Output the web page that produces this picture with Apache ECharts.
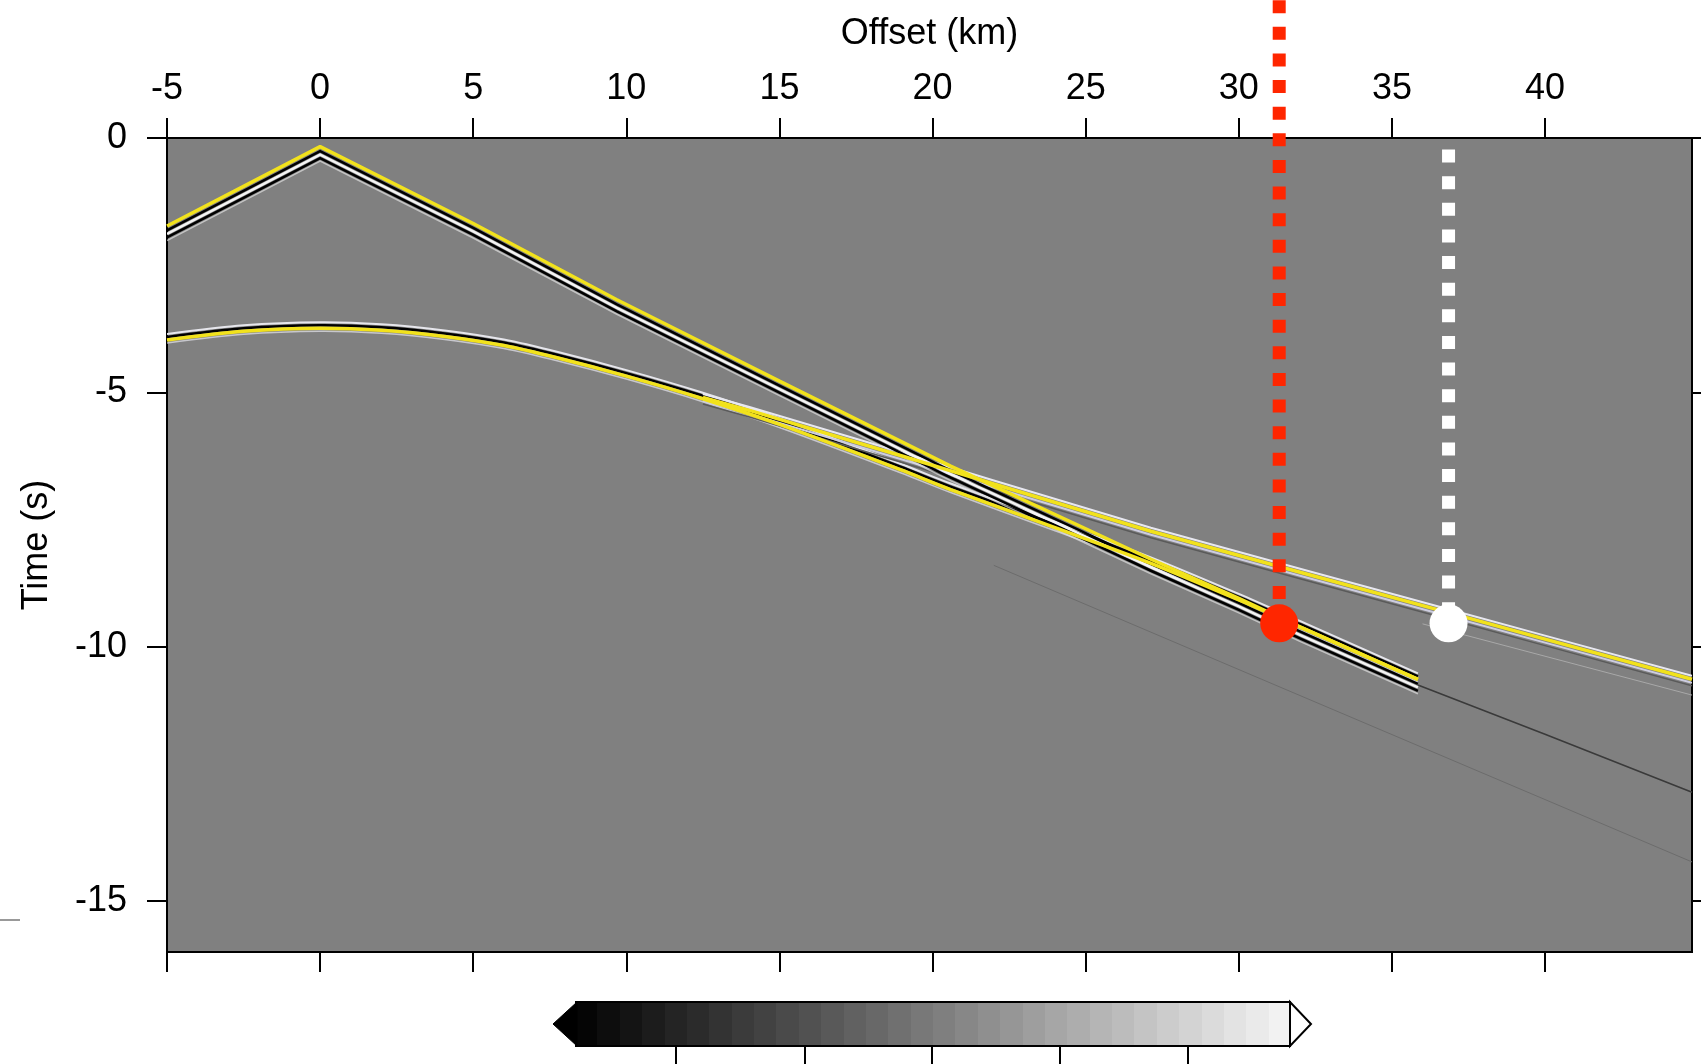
<!DOCTYPE html>
<html>
<head>
<meta charset="utf-8">
<script src="https://cdn.jsdelivr.net/npm/echarts@6/dist/echarts.min.js"></script>
<style>
html,body{margin:0;padding:0;background:#fff;}
#chart{width:1701px;height:1064px;}
</style>
</head>
<body>
<div id="chart"></div>
<script>
// ---- axis ticks ----
const xTicks = [-5, 0, 5, 10, 15, 20, 25, 30, 35, 40];
const yTicks = [0, -5, -10, -15];

// ---- picked arrivals (yellow), [offset km, time s] ----
const directPick = [[-5,-1.73],[-2.5,-0.95],[0,-0.17],[5,-1.68],[9.69,-3.18],[15,-4.78],[20.59,-6.45],[25,-7.68],[27.13,-8.28],[30,-9.05],[32.03,-9.62],[35.85,-10.64]];
const reflectPick = [[-5,-3.97],[-2.5,-3.80],[0,-3.74],[2,-3.78],[4.07,-3.90],[6,-4.08],[7.8,-4.33],[10,-4.68],[12.42,-5.11],[15,-5.63],[18.95,-6.52],[20.59,-6.91],[24,-7.66],[27.13,-8.36],[30,-9.08],[32.03,-9.62],[35.85,-10.64]];
const headPick = [[12.5,-5.10],[14.05,-5.36],[18.95,-6.24],[22,-6.80],[27.13,-7.73],[32.03,-8.54],[36.85,-9.33],[40,-9.85],[44.8,-10.64]];

// ---- faint unpicked wavefield traces ----
const faintTraceA = [[35.85,-10.75],[40,-11.72],[44.8,-12.86]];
const faintTraceB = [[22,-8.40],[30.75,-10.64],[44.8,-14.23]];
const faintTraceC = [[36,-9.55],[44.8,-10.95]];

// ---- markers ----
const redMarker = [31.32, -9.54];
const whiteMarker = [36.85, -9.54];
const redLineTop = 2.71;   // time at the very top of the page
const whiteLineTop = 0;

const FONT = 'Liberation Sans, Arial, Helvetica, sans-serif';

function wavelet(name, pts, layers, smooth) {
  return {
    type: 'custom', name: name, xAxisIndex: 0, yAxisIndex: 0, clip: true, silent: true,
    data: [pts[0]],
    renderItem: function (params, api) {
      const base = pts.map(function (p) { return api.coord(p); });
      return {
        type: 'group',
        children: layers.map(function (l) {
          return {
            type: 'polyline',
            shape: { points: base.map(function (q) { return [q[0], q[1] + l.dy]; }), smooth: smooth || 0 },
            style: { stroke: l.color, lineWidth: l.width, fill: null, opacity: l.opacity == null ? 1 : l.opacity }
          };
        })
      };
    }
  };
}

function pickLine(name, pts, smooth) {
  return {
    type: 'line', name: name, xAxisIndex: 0, yAxisIndex: 0, data: pts,
    symbol: 'none', smooth: smooth || false, z: 5, silent: true,
    lineStyle: { color: '#f2e21c', width: 3.5 }
  };
}

function faintLine(name, pts, color, width) {
  return {
    type: 'line', name: name, xAxisIndex: 0, yAxisIndex: 0, data: pts,
    symbol: 'none', z: 2, silent: true,
    lineStyle: { color: color, width: width }
  };
}

// colour bar gradient (banded)
const barStops = [];
const nBands = 32;
for (let i = 0; i < nBands; i++) {
  const g = Math.round(5 + (242 - 5) * i / (nBands - 1));
  const c = 'rgb(' + g + ',' + g + ',' + g + ')';
  barStops.push({ offset: i / nBands, color: c });
  barStops.push({ offset: (i + 1) / nBands, color: c });
}
const cbTicks = [676, 805, 932, 1060, 1188];

const chart = echarts.init(document.getElementById('chart'), null, { renderer: 'canvas' });

const axisCommon = {
  type: 'value', min: -5, max: 44.8,
  axisLine: { show: true, onZero: false, lineStyle: { color: '#000', width: 2 } },
  axisTick: { show: true, inside: false, length: 20, customValues: xTicks, lineStyle: { color: '#000', width: 2 } },
  splitLine: { show: false }
};

const option = {
  animation: false,
  backgroundColor: '#fff',
  grid: { left: 167, right: 9, top: 138, bottom: 112, show: true, backgroundColor: '#808080', borderColor: '#000', borderWidth: 2 },
  xAxis: [
    Object.assign({}, axisCommon, {
      position: 'top',
      name: 'Offset (km)', nameLocation: 'middle', nameGap: 86,
      nameTextStyle: { fontSize: 36, color: '#000', fontFamily: FONT },
      axisLabel: { show: true, customValues: xTicks, margin: 31, fontSize: 36, color: '#000', fontFamily: FONT }
    }),
    Object.assign({}, axisCommon, {
      position: 'bottom',
      axisLabel: { show: false }
    })
  ],
  yAxis: [
    {
      type: 'value', min: -16, max: 0, position: 'left',
      name: 'Time (s)', nameLocation: 'middle', nameGap: 112, nameRotate: 90,
      nameTextStyle: { fontSize: 36, color: '#000', fontFamily: FONT },
      axisLine: { show: true, onZero: false, lineStyle: { color: '#000', width: 2 } },
      axisTick: { show: true, inside: false, length: 20, customValues: yTicks, lineStyle: { color: '#000', width: 2 } },
      axisLabel: { show: true, customValues: yTicks, margin: 40, fontSize: 36, color: '#000', fontFamily: FONT },
      splitLine: { show: false }
    },
    {
      type: 'value', min: -16, max: 0, position: 'right',
      axisLine: { show: true, onZero: false, lineStyle: { color: '#000', width: 2 } },
      axisTick: { show: true, inside: false, length: 20, customValues: yTicks, lineStyle: { color: '#000', width: 2 } },
      axisLabel: { show: false },
      splitLine: { show: false }
    }
  ],
  series: [
    faintLine('faintB', faintTraceB, '#6c6c6c', 1),
    faintLine('faintA', faintTraceA, '#3a3a3a', 1.6),
    faintLine('faintC', faintTraceC, '#a8a8a8', 1),
    wavelet('reflectWavelet', reflectPick, [
      { dy: -6, color: '#e6e6ec', width: 2 },
      { dy: -3, color: '#000', width: 2.5 },
      { dy: 3, color: '#d8d8e0', width: 1.5, opacity: 0.8 }
    ], 0.3),
    wavelet('headWavelet', headPick, [
      { dy: -3.5, color: '#e8e8f0', width: 2 },
      { dy: 3.5, color: '#cdcde0', width: 2 },
      { dy: 6.5, color: '#5a5a5a', width: 1.5 }
    ], 0),
    wavelet('directWavelet', directPick, [
      { dy: 4.5, color: '#000', width: 2.5 },
      { dy: 8, color: '#f4f4f4', width: 2.5 },
      { dy: 11.5, color: '#000', width: 2.5 },
      { dy: 14.5, color: '#e0e0e0', width: 1.5, opacity: 0.7 }
    ], 0),
    pickLine('reflection', reflectPick, 0.3),
    pickLine('head wave', headPick, false),
    pickLine('direct', directPick, false),
    {
      type: 'line', name: 'redLine', xAxisIndex: 0, yAxisIndex: 0, clip: false, silent: true, z: 8,
      data: [[redMarker[0], redLineTop], redMarker], symbol: 'none',
      lineStyle: { color: '#ff2600', width: 13, type: [13, 13.63], dashOffset: 0, cap: 'butt', opacity: 1 }
    },
    {
      type: 'line', name: 'whiteLine', xAxisIndex: 0, yAxisIndex: 0, clip: false, silent: true, z: 8,
      data: [[whiteMarker[0], whiteLineTop], whiteMarker], symbol: 'none',
      lineStyle: { color: '#ffffff', width: 13, type: [13, 13.63], dashOffset: 15.1, cap: 'butt', opacity: 1 }
    },
    {
      type: 'scatter', name: 'markers', xAxisIndex: 0, yAxisIndex: 0, silent: true, z: 9,
      symbol: 'circle', symbolSize: 38,
      itemStyle: { opacity: 1 },
      data: [
        { value: redMarker, itemStyle: { color: '#ff2600', opacity: 1 } },
        { value: whiteMarker, itemStyle: { color: '#ffffff', opacity: 1 } }
      ]
    }
  ],
  graphic: [
    { type: 'line', shape: { x1: 0, y1: 920, x2: 20, y2: 920 }, style: { stroke: '#999', lineWidth: 2 } },
    {
      type: 'rect', shape: { x: 576, y: 1002, width: 714, height: 44 },
      style: {
        fill: { type: 'linear', x: 0, y: 0, x2: 1, y2: 0, colorStops: barStops },
        stroke: '#000', lineWidth: 2
      }
    },
    { type: 'polygon', shape: { points: [[577, 1002], [553, 1024], [577, 1046]] }, style: { fill: '#000', stroke: '#000', lineWidth: 1 } },
    { type: 'polygon', shape: { points: [[1290, 1002], [1311, 1024], [1290, 1046]] }, style: { fill: '#fff', stroke: '#000', lineWidth: 2 } }
  ].concat(cbTicks.map(function (x) {
    return { type: 'line', shape: { x1: x, y1: 1046, x2: x, y2: 1064 }, style: { stroke: '#000', lineWidth: 2 } };
  }))
};

chart.setOption(option);
</script>
</body>
</html>
